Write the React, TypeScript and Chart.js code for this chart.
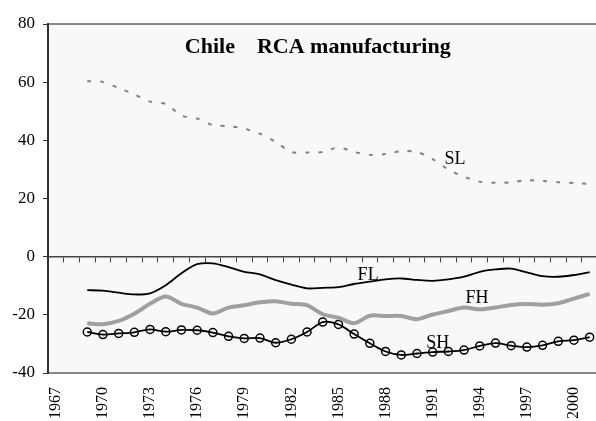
import React, { useEffect, useRef } from "react";
import { Chart, registerables } from "chart.js";
Chart.register(...registerables);

const years = ["1967","1968","1969","1970","1971","1972","1973","1974","1975","1976","1977","1978","1979","1980","1981","1982","1983","1984","1985","1986","1987","1988","1989","1990","1991","1992","1993","1994","1995","1996","1997","1998","1999","2000","2001"];
const shownYearLabels = ["1967","1970","1973","1976","1979","1982","1985","1988","1991","1994","1997","2000"];
const yTicks = [-40, -20, 0, 20, 40, 60, 80];

const SL = [null,null,60.3,60.1,58,55.8,53.3,52.5,48.5,47.5,45.2,44.9,44,42.3,39.5,36,35.8,36,37.5,36,35,35.3,36.3,36,33.5,30,27.5,25.8,25.4,25.6,26.3,26,25.6,25.3,25];
const FL = [null,null,-11.5,-11.7,-12.4,-13,-12.6,-9.8,-5.7,-2.6,-2.3,-3.6,-5.2,-6.1,-8.1,-9.6,-10.9,-10.7,-10.5,-9.4,-8.6,-7.8,-7.5,-8,-8.3,-7.8,-6.9,-5.2,-4.4,-4.1,-5.4,-6.7,-6.9,-6.3,-5.3];
const FH = [null,null,-22.9,-23.2,-22.1,-19.6,-16.2,-13.7,-16.2,-17.5,-19.5,-17.5,-16.7,-15.7,-15.3,-16.2,-16.7,-19.8,-21,-22.9,-20.3,-20.4,-20.4,-21.5,-19.9,-18.7,-17.5,-18.1,-17.5,-16.6,-16.3,-16.5,-16,-14.4,-12.8];
const SH = [null,null,-25.9,-26.8,-26.4,-26,-25,-25.8,-25.2,-25.3,-26.1,-27.4,-28.1,-28,-29.6,-28.4,-25.9,-22.5,-23.3,-26.6,-29.8,-32.6,-33.8,-33.3,-32.8,-32.6,-32.1,-30.7,-29.7,-30.6,-31.1,-30.5,-29.1,-28.7,-27.7];

const titleText = "Chile    RCA manufacturing";
const seriesLabels = ["SL", "FL", "FH", "SH"];
// annotation anchors in data coordinates (category index, value at text baseline)
const labelAnchors = [
  { x: 25.43, y: 31.7 },
  { x: 19.89, y: -8.1 },
  { x: 26.82, y: -16.0 },
  { x: 24.32, y: -31.3 },
];
const titleAnchor = { x: 16.68, y: 69.9 };

const FONT = "'Liberation Serif', 'Times New Roman', serif";

export default function App() {
  const ref = useRef<HTMLCanvasElement | null>(null);
  useEffect(() => {
    if (!ref.current) return;
    const bgPlugin = {
      id: "bg",
      beforeDraw(chart: any) {
        const { ctx, chartArea: a } = chart;
        ctx.save();
        ctx.fillStyle = "#f8f8f8";
        ctx.fillRect(a.left, a.top, a.right - a.left, a.bottom - a.top);
        ctx.strokeStyle = "#888888";
        ctx.lineWidth = 2;
        ctx.beginPath();
        ctx.moveTo(a.left, a.top);
        ctx.lineTo(a.right, a.top);
        ctx.stroke();
        ctx.restore();
      },
      afterDatasetsDraw(chart: any) {
        const { ctx } = chart;
        const xs = chart.scales.x;
        const ys = chart.scales.y;
        ctx.save();
        ctx.fillStyle = "#000";
        ctx.textAlign = "center";
        ctx.textBaseline = "alphabetic";
        ctx.font = `bold 22px ${FONT}`;
        ctx.fillText(titleText, xs.getPixelForValue(titleAnchor.x), ys.getPixelForValue(titleAnchor.y));
        ctx.font = `18px ${FONT}`;
        seriesLabels.forEach((t, i) => {
          ctx.fillText(t, xs.getPixelForValue(labelAnchors[i].x), ys.getPixelForValue(labelAnchors[i].y));
        });
        ctx.restore();
      },
    };
    const chart = new Chart(ref.current, {
      type: "line",
      data: {
        labels: years,
        datasets: [
          { label: "SL", data: SL, borderColor: "#808080", borderWidth: 2, borderDash: [4, 9], pointRadius: 0, tension: 0.3, fill: false },
          { label: "FL", data: FL, borderColor: "#000000", borderWidth: 1.8, pointRadius: 0, tension: 0.3, fill: false },
          { label: "FH", data: FH, borderColor: "#a0a0a0", borderWidth: 4, pointRadius: 0, tension: 0.3, fill: false },
          { label: "SH", data: SH, borderColor: "#000000", borderWidth: 1.8, pointRadius: 4, pointBorderWidth: 1.5, pointBorderColor: "#000", pointBackgroundColor: "rgba(0,0,0,0)", tension: 0.3, fill: false },
        ],
      },
      options: {
        animation: false,
        responsive: false,
        layout: { padding: { top: 24, right: 0, left: 0, bottom: 0 } },
        plugins: { legend: { display: false }, tooltip: { enabled: false }, title: { display: false } },
        scales: {
          x: {
            type: "category",
            offset: true,
            position: "bottom",
            grid: { display: false, drawTicks: false, offset: true },
            border: { display: true, color: "#888888", width: 2 },
            ticks: {
              autoSkip: false,
              maxRotation: 90,
              minRotation: 90,
              padding: 14,
              color: "#000",
              font: { family: FONT, size: 16 },
              callback: function (this: any, v: any, i: number) {
                const l = years[i];
                return shownYearLabels.includes(l) ? l : "";
              },
            },
            afterFit: (s: any) => { s.height = 421 - 373; s.paddingLeft = 0; s.paddingRight = 0; },
          },
          x2: {
            type: "category",
            labels: years,
            offset: true,
            position: { y: 0 } as any,
            grid: { display: true, drawOnChartArea: false, drawTicks: true, tickLength: 5, color: "#444", offset: true, lineWidth: 1 },
            border: { display: true, color: "#444", width: 1.5 },
            ticks: { display: false, autoSkip: false },
            afterFit: (s: any) => { s.paddingLeft = 0; s.paddingRight = 0; },
          },
          y: {
            min: -40,
            max: 80,
            afterBuildTicks: (s: any) => { s.ticks = yTicks.map((v) => ({ value: v })); },
            grid: { drawOnChartArea: false, drawTicks: true, tickLength: 5, color: "#333" },
            border: { display: true, color: "#333", width: 2 },
            ticks: { color: "#000", padding: 8, font: { family: FONT, size: 17 } },
            afterFit: (s: any) => { s.width = 48; },
          },
        },
      },
      plugins: [bgPlugin],
    } as any);
    return () => chart.destroy();
  }, []);
  return (
    <div style={{ position: "fixed", left: 0, top: 0, width: 596, height: 421, overflow: "hidden", background: "#fff" }}>
      <canvas ref={ref} width={603} height={421} style={{ width: 603, height: 421, display: "block" }} />
    </div>
  );
}
